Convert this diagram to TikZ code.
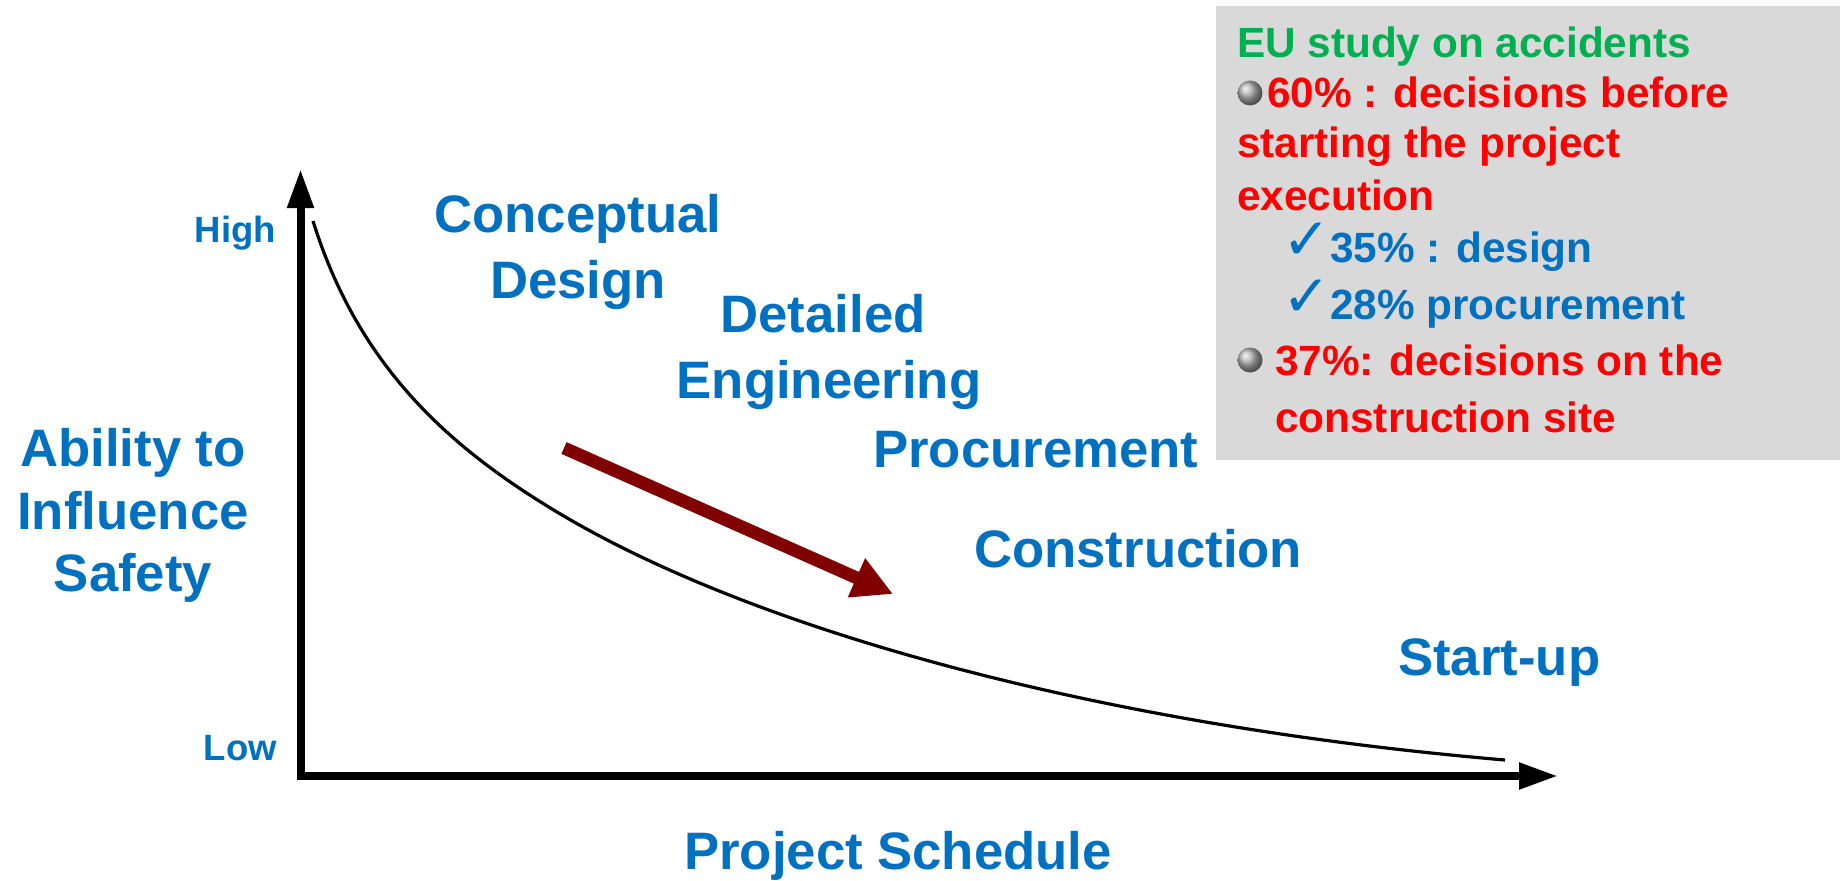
\documentclass[tikz,border=0pt]{standalone}
\usepackage{fontspec}
\setmainfont{Liberation Sans}
\newfontfamily\checkfont{DejaVu Sans}
\usetikzlibrary{arrows.meta}
\definecolor{phaseblue}{RGB}{0,112,192}
\definecolor{studygreen}{RGB}{0,176,80}
\definecolor{studyred}{RGB}{255,0,0}
\definecolor{boxgray}{RGB}{217,217,217}
\definecolor{trendred}{RGB}{128,0,0}
\tikzset{
	safety chart/.is family,
	safety chart/.cd,
	axis/.style = {
		line width = 8pt,
		line join = miter,
		arrows = {Triangle[length = 39pt, width = 25pt]-Triangle[length = 39pt, width = 25pt]},
	},
	curve/.style = {
		line width = 3.2pt,
		line cap = butt,
	},
	trend/.style = {
		draw = trendred,
		line width = 12.8pt,
		-{Triangle[length = 40pt, width = 40pt]},
	},
	phase/.style = {
		text = phaseblue,
		inner sep = 0pt,
		anchor = base,
		font = \fontsize{52.7}{63}\selectfont\bfseries,
	},
	level/.style = {
		text = phaseblue,
		inner sep = 0pt,
		anchor = base east,
		font = \fontsize{36.5}{44}\selectfont\bfseries,
	},
	study line/.style = {
		inner sep = 0pt,
		anchor = base west,
		font = \fontsize{42.3}{52}\selectfont\bfseries,
	},
	tick mark/.style = {
		text = phaseblue,
		inner sep = 0pt,
		anchor = base east,
		font = \fontsize{58}{66}\selectfont\checkfont,
	},
	bullet ball/.style = {
		ball color = gray!60,
	},
}

\begin{document}
\begin{tikzpicture}[x = 1pt, y = -1pt]
	\useasboundingbox (0, 0) rectangle (1840, 881);
	% axes of the chart
	\coordinate (origin) at (300.5, 776);
	\coordinate (y tip) at (300.5, 169);
	\coordinate (x tip) at (1558, 776);
	\draw[safety chart/axis] (y tip) -- (origin) -- (x tip);
	\node[safety chart/level] (high) at (276, 242) {High};
	\node[safety chart/level] (low) at (277, 760) {Low};
	\node[safety chart/phase] (ability) at (133, 466) {Ability to};
	\node[safety chart/phase] (influence) at (133, 529) {Influence};
	\node[safety chart/phase] (safety) at (133, 591) {Safety};
	\node[safety chart/phase, anchor = base west] (schedule) at (684, 869) {Project Schedule};
	% the decaying curve, two cubic pieces
	\coordinate (curve start) at (313, 221);
	\coordinate (curve mid) at (557, 512);
	\coordinate (curve end) at (1505, 760);
	\draw[safety chart/curve] (curve start)
		.. controls (358, 365) and (447, 446) .. (curve mid)
		.. controls (757, 632) and (1105, 726) .. (curve end);
	\coordinate (trend start) at (564, 448);
	\coordinate (trend end) at (893, 594);
	\draw[safety chart/trend] (trend start) -- (trend end);
	% project phases
	\node[safety chart/phase] (conceptual) at (578, 232) {Conceptual};
	\node[safety chart/phase] (design) at (578, 298) {Design};
	\node[safety chart/phase] (detailed) at (823, 332) {Detailed};
	\node[safety chart/phase] (engineering) at (829, 398) {Engineering};
	\node[safety chart/phase, anchor = base west] (procurement) at (873, 467) {Procurement};
	\node[safety chart/phase, anchor = base west] (construction) at (974, 567) {Construction};
	\node[safety chart/phase, anchor = base west] (startup) at (1398, 675) {Start-up};
	% EU study box
	\fill[boxgray] (1216, 6) rectangle (1840, 460);
	\shade[safety chart/bullet ball] (1250, 93) circle[radius = 12.5pt];
	\shade[safety chart/bullet ball] (1250, 360) circle[radius = 12.5pt];
	\node[safety chart/study line, text = studygreen] (study title) at (1237, 57) {EU study on accidents};
	\node[safety chart/study line, text = studyred] (before 1) at (1267, 107) {60\% : decisions before};
	\node[safety chart/study line, text = studyred] (before 2) at (1237, 157) {starting the project};
	\node[safety chart/study line, text = studyred] (before 3) at (1237, 210) {execution};
	\node[safety chart/study line, text = phaseblue] (share design) at (1330, 262) {35\% : design};
	\node[safety chart/tick mark] (tick design) at ([xshift = 1pt, yshift = 3pt]share design.base west) {✓};
	\node[safety chart/study line, text = phaseblue] (share procurement) at (1330, 319) {28\% procurement};
	\node[safety chart/tick mark] (tick procurement) at ([xshift = 1pt, yshift = 3pt]share procurement.base west) {✓};
	\node[safety chart/study line, text = studyred] (site 1) at (1275, 375) {37\%: decisions on the};
	\node[safety chart/study line, text = studyred] (site 2) at (1275, 432) {construction site};
\end{tikzpicture}
\end{document}
